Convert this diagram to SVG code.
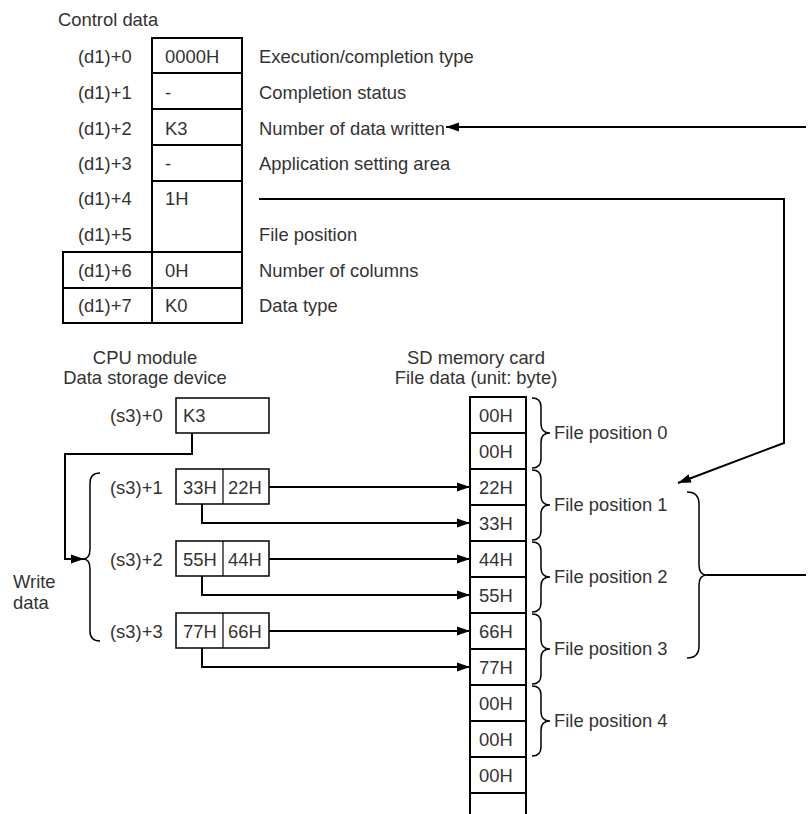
<svg xmlns="http://www.w3.org/2000/svg" width="808" height="814" viewBox="0 0 808 814">
<defs>
<marker id="ah" markerUnits="userSpaceOnUse" markerWidth="14" markerHeight="10" refX="13" refY="5" orient="auto"><path d="M0,0.5 L13,5 L0,9.5 Z" fill="#000"/></marker>
<style>
text{font-family:"Liberation Sans",Arial,sans-serif;font-size:18.4px;fill:#333}
.mid{text-anchor:middle}
.b{fill:none;stroke:#000;stroke-width:2}
.t{fill:none;stroke:#000;stroke-width:1.5}
.th{fill:none;stroke:#000;stroke-width:1.2}
.c{fill:none;stroke:#000;stroke-width:2}
.br{fill:none;stroke:#000;stroke-width:1.5}
</style>
</defs>
<rect width="808" height="814" fill="#fff"/>

<g id="control-data">
<text x="58" y="26">Control data</text>
<rect class="b" x="152" y="38" width="90" height="285"/>
<rect class="b" x="63" y="252" width="89" height="71"/>
<path class="b" d="M152,73H242M152,109H242M152,145H242M152,181H242M152,252H242M63,288H242"/>
<text x="78" y="63">(d1)+0</text><text x="165" y="63">0000H</text><text x="259" y="63">Execution/completion type</text>
<text x="78" y="99">(d1)+1</text><text x="165" y="99">-</text><text x="259" y="99">Completion status</text>
<text x="78" y="135">(d1)+2</text><text x="165" y="135">K3</text><text x="259" y="135">Number of data written</text>
<text x="78" y="170">(d1)+3</text><text x="165" y="170">-</text><text x="259" y="170">Application setting area</text>
<text x="78" y="205">(d1)+4</text><text x="165" y="205">1H</text>
<text x="78" y="241">(d1)+5</text><text x="259" y="241">File position</text>
<text x="78" y="277">(d1)+6</text><text x="165" y="277">0H</text><text x="259" y="277">Number of columns</text>
<text x="78" y="312">(d1)+7</text><text x="165" y="312">K0</text><text x="259" y="312">Data type</text>
</g>

<g id="cpu-module">
<text class="mid" x="145" y="364">CPU module</text>
<text class="mid" x="145" y="384">Data storage device</text>
<rect class="t" x="176" y="398" width="93" height="35"/>
<text x="110" y="422">(s3)+0</text><text x="183" y="422">K3</text>
<rect class="t" x="176" y="469" width="93" height="35"/><path class="th" d="M223,469V504"/>
<text x="110" y="494">(s3)+1</text><text x="183" y="494">33H</text><text x="228" y="494">22H</text>
<rect class="t" x="176" y="541" width="93" height="35"/><path class="th" d="M223,541V576"/>
<text x="110" y="566">(s3)+2</text><text x="183" y="566">55H</text><text x="228" y="566">44H</text>
<rect class="t" x="176" y="613" width="93" height="35"/><path class="th" d="M223,613V648"/>
<text x="110" y="638">(s3)+3</text><text x="183" y="638">77H</text><text x="228" y="638">66H</text>
<path class="br" d="M100,473Q90,473 90,483V549Q90,559 83,559Q90,559 90,569V631Q90,641 100,641"/>
<text x="13" y="588">Write</text>
<text x="13" y="609">data</text>
</g>

<g id="sd-card">
<text class="mid" x="476" y="364">SD memory card</text>
<text class="mid" x="476" y="384">File data (unit: byte)</text>
<path class="b" d="M470,816V397H526V816M470,433H526M470,469H526M470,505H526M470,541H526M470,577H526M470,613H526M470,649H526M470,685H526M470,721H526M470,757H526M470,793H526"/>
<text x="479" y="422">00H</text>
<text x="479" y="458">00H</text>
<text x="479" y="494">22H</text>
<text x="479" y="530">33H</text>
<text x="479" y="566">44H</text>
<text x="479" y="602">55H</text>
<text x="479" y="638">66H</text>
<text x="479" y="674">77H</text>
<text x="479" y="710">00H</text>
<text x="479" y="746">00H</text>
<text x="479" y="782">00H</text>
</g>

<g id="file-positions">
<path class="br" d="M532,398Q541,398 541,407V424Q541,433 550,433Q541,433 541,442V459Q541,468 532,468"/>
<path class="br" d="M532,470Q541,470 541,479V496Q541,505 550,505Q541,505 541,514V531Q541,540 532,540"/>
<path class="br" d="M532,542Q541,542 541,551V568Q541,577 550,577Q541,577 541,586V603Q541,612 532,612"/>
<path class="br" d="M532,614Q541,614 541,623V640Q541,649 550,649Q541,649 541,658V675Q541,684 532,684"/>
<path class="br" d="M532,686Q541,686 541,695V712Q541,721 550,721Q541,721 541,730V747Q541,756 532,756"/>
<text x="554" y="439">File position 0</text>
<text x="554" y="511">File position 1</text>
<text x="554" y="583">File position 2</text>
<text x="554" y="655">File position 3</text>
<text x="554" y="727">File position 4</text>
<path class="br" d="M687,492Q699,492 699,504V565Q699,575 707,575Q699,575 699,585V646Q699,658 687,658"/>
</g>

<g id="connectors">
<path class="c" d="M806,127H446" marker-end="url(#ah)"/>
<path class="c" d="M259,199H784V443L678,483" marker-end="url(#ah)"/>
<path class="c" d="M707,575H806"/>
<path class="c" d="M192,433V454H65V559H84" marker-end="url(#ah)"/>
<path class="c" d="M269,487H470" marker-end="url(#ah)"/>
<path class="c" d="M202,504V523H470" marker-end="url(#ah)"/>
<path class="c" d="M269,559H470" marker-end="url(#ah)"/>
<path class="c" d="M202,576V595H470" marker-end="url(#ah)"/>
<path class="c" d="M269,631H470" marker-end="url(#ah)"/>
<path class="c" d="M202,648V667H470" marker-end="url(#ah)"/>
</g>
</svg>
